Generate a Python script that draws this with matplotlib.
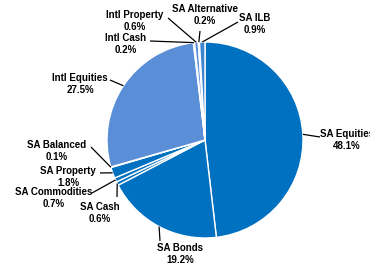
import numpy as np
import matplotlib
matplotlib.use("Agg")
import matplotlib.pyplot as plt

plt.rcParams['font.family'] = ['Liberation Sans', 'DejaVu Sans']

# slices, clockwise from the top
names = ['SA Equities', 'SA Bonds', 'SA Cash', 'SA Commodities', 'SA Property',
         'SA Balanced', 'Intl Equities', 'Intl Cash', 'Intl Property',
         'SA Alternative', 'SA ILB']
shares = [48.1, 19.2, 0.6, 0.7, 1.8, 0.1, 27.5, 0.2, 0.6, 0.2, 0.9]

SA_COL = '#0070C0'
INTL_COL = '#5A8FD8'
colors = [INTL_COL if n.startswith('Intl') else SA_COL for n in names]
colors[-1] = '#3F86D0'

# label layout in pixel coords (y down): text centre, leader line anchor
text_pos = {
    'SA Equities': (347, 140), 'SA Bonds': (180, 254), 'SA Cash': (100, 213),
    'SA Commodities': (54, 198), 'SA Property': (68, 177), 'SA Balanced': (57, 151),
    'Intl Equities': (80, 84), 'Intl Cash': (126, 44), 'Intl Property': (135, 21),
    'SA Alternative': (205, 15), 'SA ILB': (255, 24),
}
line_anchor = {
    'SA Equities': (320, 137), 'SA Bonds': (160, 241), 'SA Cash': (117, 197),
    'SA Commodities': (92, 193), 'SA Property': (100, 173), 'SA Balanced': (91, 147),
    'Intl Equities': (110, 80), 'Intl Cash': (150, 41), 'Intl Property': (168, 18),
    'SA Alternative': (200, 31), 'SA ILB': (238, 22),
}

W, H = 370, 267
fig = plt.figure(figsize=(3.7, 2.67), dpi=100)
ax = fig.add_axes([0, 0, 1, 1])

cx, cy, R = 205, H - 140, 98
wedges, _ = ax.pie(shares, colors=colors, startangle=90, counterclock=False,
                   center=(cx, cy), radius=R,
                   wedgeprops=dict(edgecolor='white', linewidth=1))

for w, n, s in zip(wedges, names, shares):
    ang = np.deg2rad((w.theta1 + w.theta2) / 2)
    ex, ey = cx + R * np.cos(ang), cy + R * np.sin(ang)
    axx, axy = line_anchor[n]
    ax.plot([axx, ex], [H - axy, ey], color='black', lw=0.9, solid_capstyle='butt')
    tx, ty = text_pos[n]
    ax.text(tx, H - ty, '%s\n%.1f%%' % (n, s), ha='center', va='center',
            fontsize=7, fontweight='bold', linespacing=1.15)

ax.set_xlim(0, W)
ax.set_ylim(0, H)
ax.set_aspect('equal')
ax.axis('off')

fig.savefig('out.png', dpi=100)
